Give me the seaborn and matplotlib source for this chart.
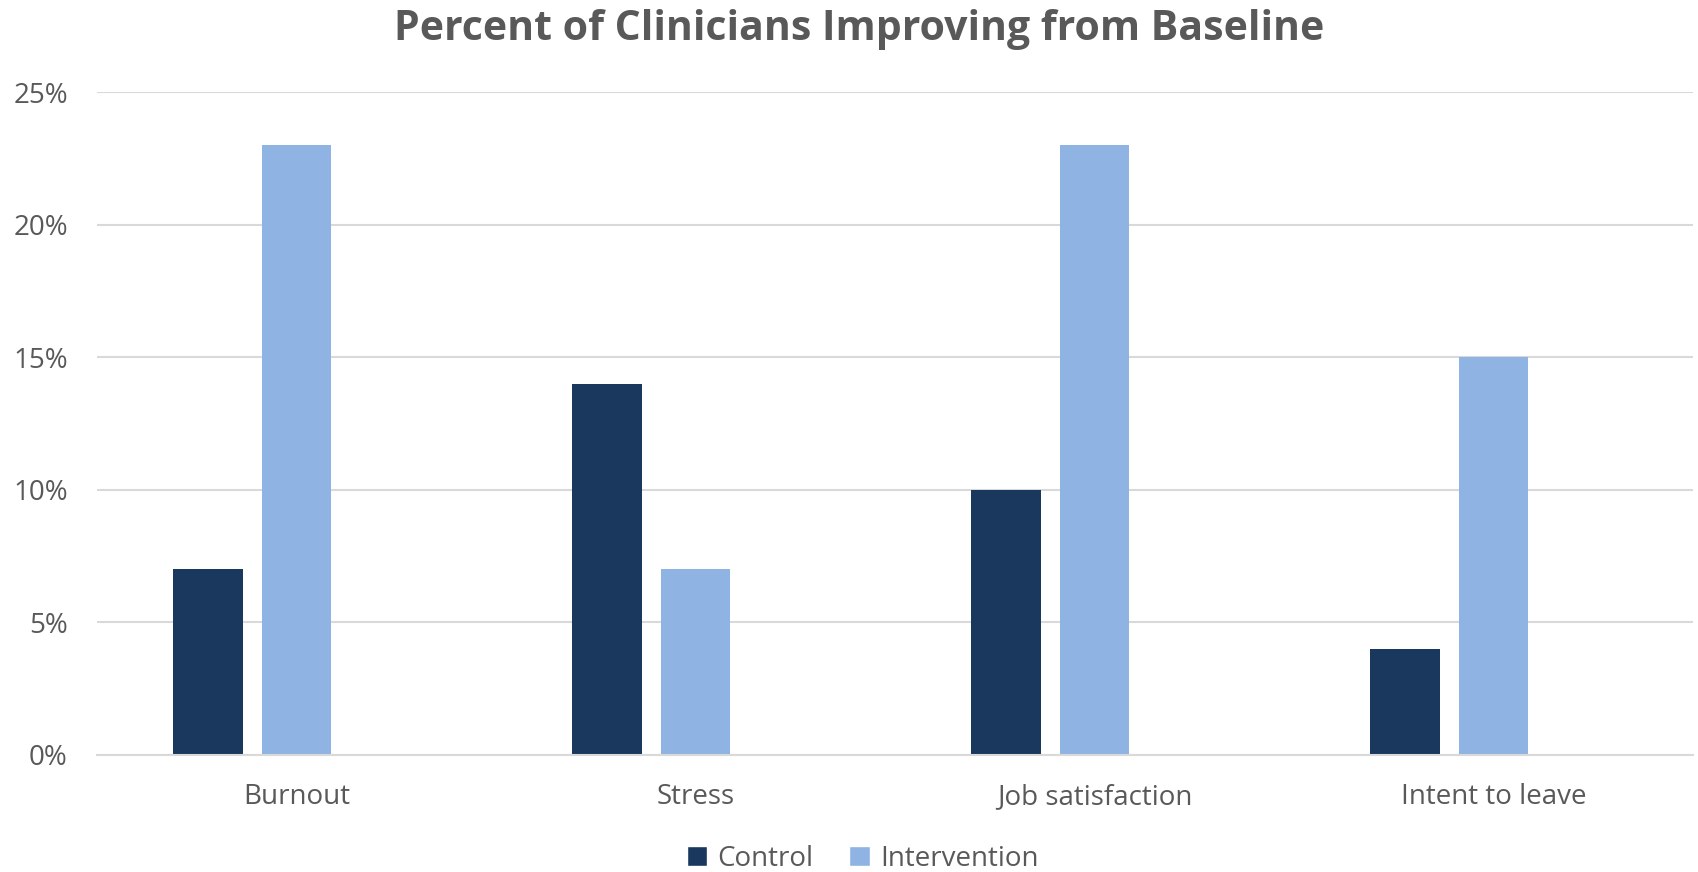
import matplotlib
matplotlib.use("Agg")
import matplotlib.pyplot as plt
import seaborn as sns
import pandas as pd
from matplotlib.patches import Patch
from matplotlib.ticker import FuncFormatter

categories = ["Burnout", "Stress", "Job satisfaction", "Intent to leave"]
control = [7, 14, 10, 4]
intervention = [23, 7, 23, 15]
hidden = [0, 0, 0, 0]
series = ["Control", "Intervention", "Hidden"]
colors = ["#1a375e", "#8fb3e2", "#ffffff"]
yticks = [0, 5, 10, 15, 20, 25]

rows = []
for i, c in enumerate(categories):
    rows.append((c, "Control", control[i]))
    rows.append((c, "Intervention", intervention[i]))
    rows.append((c, "Hidden", hidden[i]))
df = pd.DataFrame(rows, columns=["category", "series", "value"])

sns.set_theme(style="white")
plt.rcParams["font.family"] = ["Open Sans", "DejaVu Sans"]
text_color = "#595959"

fig = plt.figure(figsize=(16.98, 8.72), dpi=100)
ax = fig.add_axes([0.0571, 0.1342, 0.9400, 0.7600])

sns.barplot(data=df, x="category", y="value", hue="series", hue_order=series,
            order=categories, palette=colors, saturation=1, width=0.6645,
            gap=0.214, linewidth=0, ax=ax, legend=False)

ax.set_ylim(0, 25)
ax.set_xlim(-0.5, len(categories) - 0.5)
ax.set_yticks(yticks)
ax.yaxis.set_major_formatter(FuncFormatter(lambda v, p: f"{int(v)}%"))
ax.yaxis.grid(True, color="#d9d9d9", linewidth=1.5)
ax.set_axisbelow(True)
for s in ["top", "right", "left"]:
    ax.spines[s].set_visible(False)
ax.spines["bottom"].set_color("#d9d9d9")
ax.spines["bottom"].set_linewidth(1.5)
ax.tick_params(axis="y", length=0, pad=21, labelsize=20, labelcolor=text_color)
ax.tick_params(axis="x", length=0, pad=20, labelsize=20, labelcolor=text_color)
ax.set_xlabel("")
ax.set_ylabel("")

fig.suptitle("Percent of Clinicians Improving from Baseline", x=0.506, y=0.99,
             fontsize=29.5, fontweight="bold", color=text_color)

handles = [Patch(facecolor=colors[0], label="Control"),
           Patch(facecolor=colors[1], label="Intervention")]
fig.legend(handles=handles, loc="center", bbox_to_anchor=(0.508, 0.015),
           ncol=2, frameon=False, fontsize=20, labelcolor=text_color,
           handlelength=0.75, handleheight=0.75, handletextpad=0.35,
           columnspacing=1.3)

fig.savefig("out.png", dpi=100)
